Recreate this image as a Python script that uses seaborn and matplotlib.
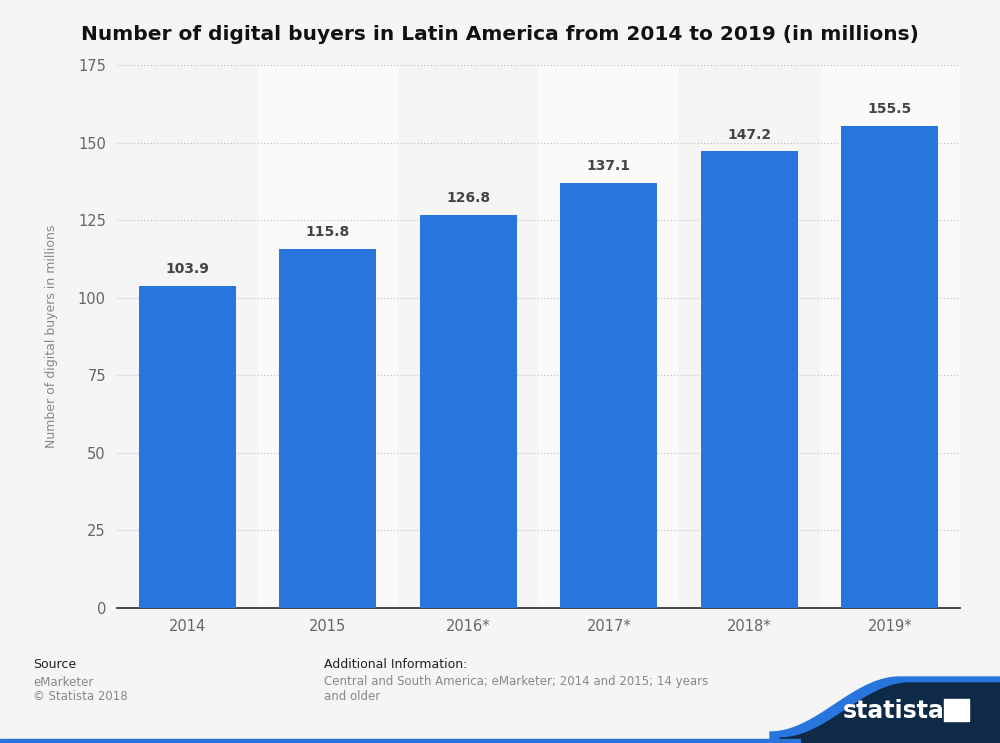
import matplotlib
matplotlib.use("Agg")
import matplotlib.pyplot as plt
import seaborn as sns
import numpy as np
import pandas as pd
from matplotlib.patches import Polygon, Rectangle

years = ["2014", "2015", "2016*", "2017*", "2018*", "2019*"]
values = [103.9, 115.8, 126.8, 137.1, 147.2, 155.5]
yticks = [0, 25, 50, 75, 100, 125, 150, 175]

sns.set_theme(style="white")
plt.rcParams['font.family'] = ['DejaVu Sans']
fig = plt.figure(figsize=(10, 7.43), dpi=100)
fig.patch.set_facecolor("#f5f5f5")
ax = fig.add_axes([0.117, 1 - 608/743, 0.843, (608-65)/743])
ax.set_facecolor("#f5f5f5")
for i in range(len(years)):
    if i % 2 == 1:
        ax.axvspan(i - 0.5, i + 0.5, color="#fafafa", zorder=0, lw=0)
df = pd.DataFrame({"year": years, "value": values})
sns.barplot(data=df, x="year", y="value", color="#2876dd", saturation=1, width=0.69, ax=ax, zorder=3, linewidth=0)
for i, v in enumerate(values):
    ax.text(i, v + 3, f"{v:.1f}", ha="center", va="bottom", fontsize=10, fontweight="bold", color="#444444")
ax.set_xlim(-0.5, 5.5)
ax.set_ylim(0, 175)
ax.set_yticks(yticks)
ax.yaxis.grid(True, linestyle=(0, (1, 2)), color="#bbbbbb", lw=0.8, zorder=1)
for s in ["top", "right", "left"]:
    ax.spines[s].set_visible(False)
ax.spines["bottom"].set_color("#333333")
ax.tick_params(axis="both", colors="#666666", labelsize=10.5, length=0, pad=8)
ax.set_xlabel("")
ax.set_ylabel("Number of digital buyers in millions", color="#888888", fontsize=9, labelpad=14)
fig.text(0.5, 1 - 35/743, "Number of digital buyers in Latin America from 2014 to 2019 (in millions)",
         ha="center", va="center", fontsize=14.5, fontweight="bold", color="#111111")
fig.text(0.033, 1 - 665/743, "Source", fontsize=9, color="#222222", va="center")
fig.text(0.033, 1 - 682/743, "eMarketer", fontsize=8.5, color="#888888", va="center")
fig.text(0.033, 1 - 697/743, "© Statista 2018", fontsize=8.5, color="#888888", va="center")
fig.text(0.324, 1 - 665/743, "Additional Information:", fontsize=9, color="#222222", va="center")
fig.text(0.324, 1 - 682/743, "Central and South America; eMarketer; 2014 and 2015; 14 years", fontsize=8.5, color="#888888", va="center")
fig.text(0.324, 1 - 697/743, "and older", fontsize=8.5, color="#888888", va="center")
# logo
def Y(p): return 1 - p/743
xs = np.linspace(0, 1, 50)
xb = 0.77 + xs * 0.13
curve = 738 - (738 - 683) * (0.5 - 0.5*np.cos(np.pi*xs))
blue = [(0.77, Y(738))] + [(x, Y(c - 6)) for x, c in zip(xb, curve)] + [(1.0, Y(677)), (1.0, Y(743)), (0.77, Y(743))]
navy = [(0.78, Y(743))] + [(x + 0.01, Y(c)) for x, c in zip(xb, curve)] + [(1.0, Y(683)), (1.0, Y(743))]
fig.patches.append(Polygon(blue, closed=True, transform=fig.transFigure, color="#2876dd", zorder=0))
fig.patches.append(Polygon(navy, closed=True, transform=fig.transFigure, color="#0e2a47", zorder=1))
fig.patches.append(Rectangle((0, 0), 0.8, 4/743, transform=fig.transFigure, color="#2876dd", zorder=2))
fig.text(0.843, Y(711), "statista", fontsize=17, fontweight="bold", color="white", va="center", zorder=5)
fig.patches.append(Rectangle((0.944, Y(721)), 0.025, 0.03, transform=fig.transFigure, color="white", zorder=5))
fig.savefig("out.png", dpi=100, facecolor=fig.get_facecolor())
